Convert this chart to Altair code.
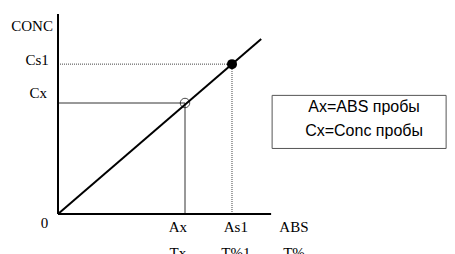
import altair as alt
import pandas as pd

# ---- data (in chart units: ABS on x, CONC on y) ----
point_names = ["Cx", "Cs1"]
point_abs = [0.50, 0.685]
point_conc = [0.437, 0.590]
point_filled = [False, True]

line_abs = [0.0, 0.80]
line_conc = [0.0, 0.689]

axis_x_end = 0.839
axis_y_end = 0.787

y_labels = ["CONC", "Cs1", "Cx"]
y_label_conc = [0.720, 0.587, 0.457]

x_labels_row1 = ["Ax", "As1", "ABS"]
x_labels_row2 = ["Tx", "T%1", "T%"]
x_label_abs = [0.472, 0.700, 0.929]

legend_lines = ["Ax=ABS  пробы", "Cx=Conc пробы"]
legend_center_abs = 1.205
legend_conc = [0.400, 0.309]
box_abs = [0.843, 1.528]
box_conc = [0.467, 0.258]

W, H = 439, 246
K = 254.0
XD = [-50 / K, (W - 50) / K]
YD = [-(H - 206) / K, 206 / K]

xs = alt.Scale(domain=XD, nice=False, zero=False)
ys = alt.Scale(domain=YD, nice=False, zero=False)


def X(f="x"):
    return alt.X(f"{f}:Q", scale=xs, axis=None)


def Y(f="y"):
    return alt.Y(f"{f}:Q", scale=ys, axis=None)


# axes
axes_df = pd.DataFrame({
    "x": [0.0, 0.0], "x2": [axis_x_end, 0.0],
    "y": [0.0, 0.0], "y2": [0.0, axis_y_end],
})
axes = alt.Chart(axes_df).mark_rule(color="black", strokeWidth=2).encode(
    x=X(), x2="x2:Q", y=Y(), y2="y2:Q")

# calibration line
cal_df = pd.DataFrame({"x": [line_abs[0]], "x2": [line_abs[1]],
                       "y": [line_conc[0]], "y2": [line_conc[1]]})
cal = alt.Chart(cal_df).mark_rule(color="black", strokeWidth=2).encode(
    x=X(), x2="x2:Q", y=Y(), y2="y2:Q")

# guide lines (Cx solid, Cs1 dotted)
cx_df = pd.DataFrame({
    "x": [0.0, point_abs[0]], "x2": [point_abs[0], point_abs[0]],
    "y": [point_conc[0], 0.0], "y2": [point_conc[0], point_conc[0]],
})
cx_lines = alt.Chart(cx_df).mark_rule(color="#333333", strokeWidth=1).encode(
    x=X(), x2="x2:Q", y=Y(), y2="y2:Q")

cs_df = pd.DataFrame({
    "x": [0.0, point_abs[1]], "x2": [point_abs[1], point_abs[1]],
    "y": [point_conc[1], 0.0], "y2": [point_conc[1], point_conc[1]],
})
cs_lines = alt.Chart(cs_df).mark_rule(color="#444444", strokeWidth=1,
                                      strokeDash=[1, 1]).encode(
    x=X(), x2="x2:Q", y=Y(), y2="y2:Q")

pts_df = pd.DataFrame({"name": point_names, "x": point_abs, "y": point_conc,
                       "filled": point_filled})
open_pt = alt.Chart(pts_df[~pts_df["filled"]]).mark_point(
    shape="circle", size=90, filled=False, color="black", strokeWidth=1).encode(
    x=X(), y=Y())
fill_pt = alt.Chart(pts_df[pts_df["filled"]]).mark_point(
    shape="circle", size=100, filled=True, color="black", opacity=1).encode(
    x=X(), y=Y())

# text labels
SERIF = "Liberation Serif"
ylab_df = pd.DataFrame({"t": y_labels, "x": [-0.02, -0.036, -0.043],
                        "y": y_label_conc})
ylab = alt.Chart(ylab_df).mark_text(font=SERIF, fontSize=15, align="right",
                                    baseline="alphabetic", color="black").encode(
    x=X(), y=Y(), text="t:N")

zero_df = pd.DataFrame({"t": ["0"], "x": [-0.053], "y": [-0.055]})
zero = alt.Chart(zero_df).mark_text(font=SERIF, fontSize=15, align="center",
                                    baseline="alphabetic", color="black").encode(
    x=X(), y=Y(), text="t:N")

xl1_df = pd.DataFrame({"t": x_labels_row1, "x": x_label_abs,
                       "y": [-0.071] * 3})
xl1 = alt.Chart(xl1_df).mark_text(font=SERIF, fontSize=15, align="center",
                                  baseline="alphabetic", color="black").encode(
    x=X(), y=Y(), text="t:N")
xl2_df = pd.DataFrame({"t": x_labels_row2, "x": x_label_abs,
                       "y": [-0.173] * 3})
xl2 = alt.Chart(xl2_df).mark_text(font=SERIF, fontSize=15, align="center",
                                  baseline="alphabetic", color="black").encode(
    x=X(), y=Y(), text="t:N")

# legend box
box_df = pd.DataFrame({"x": [box_abs[0]], "x2": [box_abs[1]],
                       "y": [box_conc[0]], "y2": [box_conc[1]]})
box = alt.Chart(box_df).mark_rect(fill="white", stroke="#555555",
                                  strokeWidth=1).encode(
    x=X(), x2="x2:Q", y=Y(), y2="y2:Q")
leg_df = pd.DataFrame({"t": legend_lines,
                       "x": [legend_center_abs] * 2,
                       "y": legend_conc})
leg = alt.Chart(leg_df).mark_text(font="Liberation Sans", fontSize=16,
                                  align="center", baseline="alphabetic",
                                  color="black").encode(
    x=X(), y=Y(), text="t:N")

chart = alt.layer(
    cs_lines, cx_lines, axes, cal, open_pt, fill_pt,
    ylab, zero, xl1, xl2, box, leg
).properties(
    width=W, height=H, padding=0,
    autosize=alt.AutoSizeParams(type="none"),
    background="white",
).configure_view(stroke=None)

chart.save("out.html", embed_options={"renderer": "svg", "actions": False})
